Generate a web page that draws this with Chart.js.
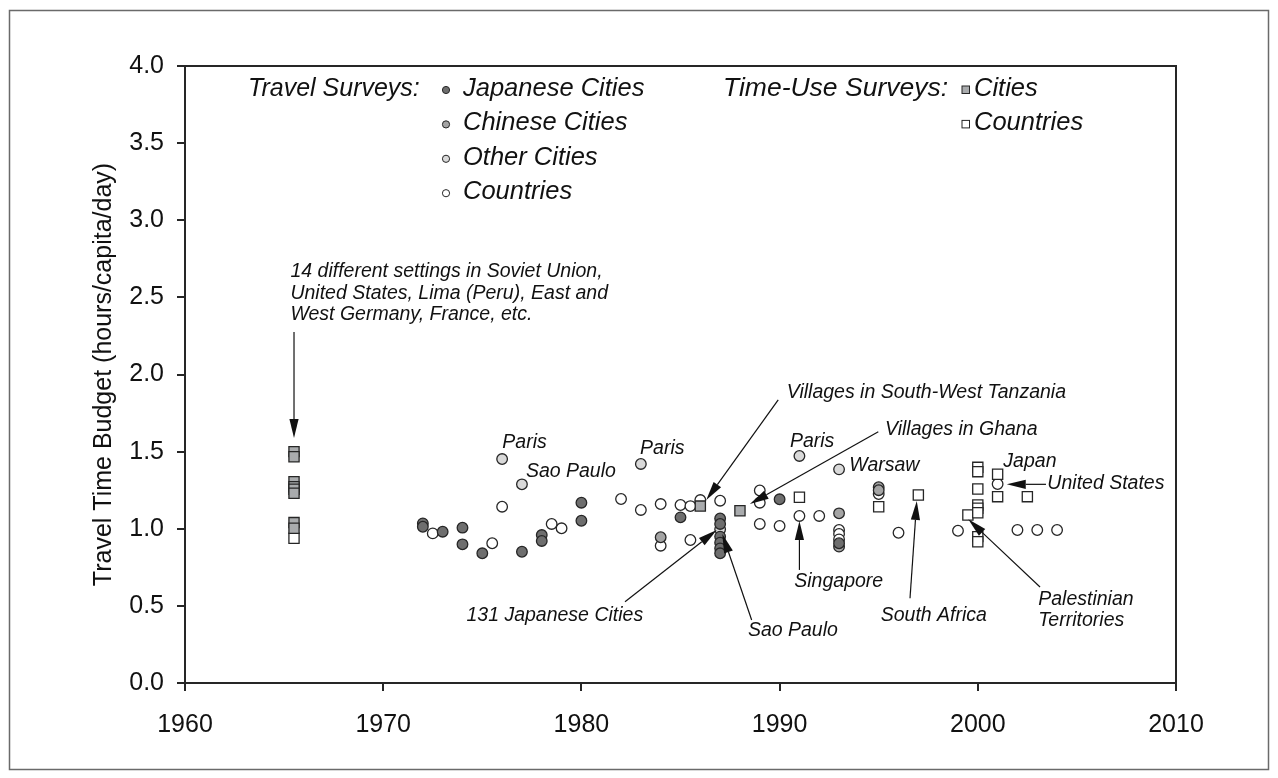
<!DOCTYPE html>
<html>
<head>
<meta charset="utf-8">
<title>Travel Time Budget</title>
<script src="https://cdn.jsdelivr.net/npm/chart.js@4.4.1/dist/chart.umd.min.js"></script>
<style>
  html, body { margin: 0; padding: 0; background: #ffffff; }
  canvas { display: block; }
</style>
</head>
<body>
<canvas id="chart" width="1278" height="778"></canvas>
<script>
const FONT = '"Liberation Sans", Arial, Helvetica, sans-serif';

// Travel surveys: [year, hours per capita per day]
const japaneseCities = [
  [1972, 1.035], [1972, 1.013], [1973, 0.981], [1974, 1.007], [1974, 0.899],
  [1975, 0.841], [1977, 0.851], [1978, 0.959], [1978, 0.921], [1980, 1.169],
  [1980, 1.052], [1985, 1.074], [1987, 1.067], [1987, 1.031], [1987, 0.949],
  [1987, 0.910], [1987, 0.873], [1987, 0.841], [1990, 1.191], [1993, 0.906]
];
const chineseCities = [
  [1984, 0.945], [1993, 1.100], [1993, 0.884], [1995, 1.269], [1995, 1.250]
];
const otherCities = [
  [1976, 1.452], [1977, 1.288], [1983, 1.420], [1987, 0.996], [1991, 1.472], [1993, 1.385]
];
const travelCountries = [
  [1972.5, 0.970], [1975.5, 0.906], [1976, 1.143], [1978.5, 1.031], [1979, 1.003],
  [1982, 1.193], [1983, 1.122], [1984, 1.160], [1984, 0.890], [1985, 1.154],
  [1985.5, 1.147], [1985.5, 0.927], [1986, 1.186], [1987, 1.182], [1989, 1.248],
  [1989, 1.169], [1989, 1.031], [1990, 1.018], [1991, 1.083], [1992, 1.083],
  [1993, 0.992], [1993, 0.966], [1993, 0.931], [1995, 1.225], [1996, 0.974],
  [1999, 0.987], [2001, 1.290], [2002, 0.992], [2003, 0.992], [2004, 0.992]
];

// Time-use surveys
const timeUseCities = [
  [1965.5, 1.500], [1965.5, 1.467], [1965.5, 1.305], [1965.5, 1.273], [1965.5, 1.256],
  [1965.5, 1.230], [1965.5, 1.040], [1965.5, 1.003], [1986, 1.147], [1988, 1.117]
];
const timeUseCountries = [
  [1965.5, 0.938], [1991, 1.204], [1995, 1.143], [1997, 1.219], [1999.5, 1.089],
  [2000, 1.398], [2000, 1.370], [2000, 1.258], [2000, 1.154], [2000, 1.133],
  [2000, 1.104], [2000, 0.949], [2000, 0.916], [2001, 1.353], [2001, 1.208], [2002.5, 1.208]
];

const yearTicks = [1960, 1970, 1980, 1990, 2000, 2010];
const budgetTicks = [0, 0.5, 1, 1.5, 2, 2.5, 3, 3.5, 4];

// Callout texts, anchored in data units: [lines, year, value at first baseline]
const callouts = [
  [['14 different settings in Soviet Union,', 'United States, Lima (Peru), East and', 'West Germany, France, etc.'], 1965.32, 2.632],
  [['Paris'], 1976.01, 1.522],
  [['Sao Paulo'], 1977.2, 1.337],
  [['Paris'], 1982.96, 1.485],
  [['Paris'], 1990.52, 1.532],
  [['Warsaw'], 1993.52, 1.376],
  [['Villages in South-West Tanzania'], 1990.36, 1.846],
  [['Villages in Ghana'], 1995.32, 1.608],
  [['Japan'], 2001.29, 1.398],
  [['United States'], 2003.51, 1.256],
  [['Singapore'], 1990.74, 0.620],
  [['South Africa'], 1995.1, 0.404],
  [['Palestinian', 'Territories'], 2003.05, 0.506],
  [['131 Japanese Cities'], 1974.2, 0.404],
  [['Sao Paulo'], 1988.4, 0.305]
];
// Arrows: [tail year, tail value, tip year, tip value]
const arrows = [
  [1965.5, 2.276, 1965.5, 1.588],
  [1989.93, 1.835, 1986.3, 1.186],
  [1994.98, 1.629, 1988.5, 1.160],
  [2003.44, 1.288, 2001.46, 1.288],
  [1991.0, 0.733, 1991.0, 1.050],
  [1996.58, 0.549, 1996.92, 1.180],
  [2003.14, 0.622, 1999.52, 1.061],
  [1982.2, 0.527, 1986.83, 0.992],
  [1988.59, 0.408, 1987.11, 0.966]
];

const toPoints = arr => arr.map(([x, y]) => ({ x, y }));
const EDGE = '#262626';

function circleSet(label, data, fill) {
  return { label, data: toPoints(data), pointStyle: 'circle', pointRadius: 5.3,
    backgroundColor: fill, borderColor: EDGE, borderWidth: 1.3, showLine: false };
}
function squareSet(label, data, fill) {
  return { label, data: toPoints(data), pointStyle: 'rect', pointRadius: 7.2,
    backgroundColor: fill, borderColor: EDGE, borderWidth: 1.3, showLine: false };
}

const datasets = [
  squareSet('Time-Use Cities', timeUseCities, '#a9abad'),
  squareSet('Time-Use Countries', timeUseCountries, '#ffffff'),
  circleSet('Japanese Cities', japaneseCities, '#6e6e6e'),
  circleSet('Chinese Cities', chineseCities, '#a4a4a4'),
  circleSet('Other Cities', otherCities, '#d9d9d9'),
  circleSet('Countries', travelCountries, '#ffffff')
];

function drawArrow(ctx, x1, y1, x2, y2) {
  const ang = Math.atan2(y2 - y1, x2 - x1);
  const len = 19, half = 4.6;
  const bx = x2 - Math.cos(ang) * len, by = y2 - Math.sin(ang) * len;
  ctx.beginPath();
  ctx.moveTo(x1, y1);
  ctx.lineTo(bx, by);
  ctx.stroke();
  ctx.beginPath();
  ctx.moveTo(x2, y2);
  ctx.lineTo(bx + Math.sin(ang) * half, by - Math.cos(ang) * half);
  ctx.lineTo(bx - Math.sin(ang) * half, by + Math.cos(ang) * half);
  ctx.closePath();
  ctx.fill();
}

const decorPlugin = {
  id: 'decor',
  afterDatasetsDraw(chart) {
    const { ctx, chartArea: a, scales: { x, y } } = chart;
    ctx.save();
    // plot box
    ctx.strokeStyle = EDGE;
    ctx.lineWidth = 2;
    ctx.strokeRect(a.left, a.top, a.right - a.left, a.bottom - a.top);

    // arrows
    ctx.strokeStyle = '#111';
    ctx.fillStyle = '#111';
    ctx.lineWidth = 1.2;
    arrows.forEach(([x1, y1, x2, y2]) => {
      drawArrow(ctx, x.getPixelForValue(x1), y.getPixelForValue(y1),
                x.getPixelForValue(x2), y.getPixelForValue(y2));
    });

    // callouts
    ctx.fillStyle = '#111';
    ctx.font = 'italic 19.5px ' + FONT;
    ctx.textAlign = 'left';
    ctx.textBaseline = 'alphabetic';
    callouts.forEach(([lines, cx, cy]) => {
      const px = x.getPixelForValue(cx), py = y.getPixelForValue(cy);
      lines.forEach((t, i) => ctx.fillText(t, px, py + i * 21.5));
    });

    // legend
    const L = a.left, T = a.top;
    ctx.font = 'italic 25px ' + FONT;
    ctx.fillText('Travel Surveys:', L + 63, T + 30);
    ctx.font = 'italic 26.5px ' + FONT;
    ctx.fillText('Time-Use Surveys:', L + 538, T + 30);
    ctx.font = 'italic 25.5px ' + FONT;
    const rows = [
      ['Japanese Cities', '#6e6e6e'],
      ['Chinese Cities', '#a4a4a4'],
      ['Other Cities', '#d9d9d9'],
      ['Countries', '#ffffff']
    ];
    rows.forEach(([t, c], i) => {
      const base = T + 30 + i * 34.4;
      ctx.beginPath();
      ctx.arc(L + 261, base - 6, 3.6, 0, Math.PI * 2);
      ctx.fillStyle = c;
      ctx.fill();
      ctx.strokeStyle = EDGE;
      ctx.lineWidth = 1;
      ctx.stroke();
      ctx.fillStyle = '#111';
      ctx.fillText(t, L + 278, base);
    });
    [['Cities', '#a9abad'], ['Countries', '#ffffff']].forEach(([t, c], i) => {
      const base = T + 30 + i * 34.4;
      ctx.fillStyle = c;
      ctx.fillRect(L + 777, base - 10, 7.5, 7.5);
      ctx.strokeStyle = EDGE;
      ctx.lineWidth = 1;
      ctx.strokeRect(L + 777, base - 10, 7.5, 7.5);
      ctx.fillStyle = '#111';
      ctx.fillText(t, L + 789, base);
    });

    // outer frame
    ctx.strokeStyle = '#6a6a6a';
    ctx.lineWidth = 1.5;
    ctx.strokeRect(9.5, 10.5, chart.width - 19, chart.height - 19);
    ctx.restore();
  }
};

new Chart(document.getElementById('chart'), {
  type: 'scatter',
  data: { datasets },
  options: {
    responsive: false,
    animation: false,
    events: [],
    layout: { padding: { left: 0, right: 102, top: 66, bottom: 0 } },
    plugins: { legend: { display: false }, tooltip: { enabled: false } },
    scales: {
      x: {
        type: 'linear', min: 1960, max: 2010,
        afterBuildTicks: s => { s.ticks = yearTicks.map(v => ({ value: v })); },
        afterFit: s => { s.height = 95; },
        ticks: { color: '#111', padding: 19, font: { family: FONT, size: 25 },
                 callback: v => String(v) },
        grid: { drawOnChartArea: false, drawTicks: true, tickLength: 8, color: EDGE, lineWidth: 2 },
        border: { display: true, color: EDGE, width: 2 }
      },
      y: {
        type: 'linear', min: 0, max: 4,
        afterBuildTicks: s => { s.ticks = budgetTicks.map(v => ({ value: v })); },
        afterFit: s => { s.width = 185; },
        ticks: { color: '#111', padding: 13, font: { family: FONT, size: 25 },
                 callback: v => Number(v).toFixed(1) },
        grid: { drawOnChartArea: false, drawTicks: true, tickLength: 8, color: EDGE, lineWidth: 2 },
        border: { display: true, color: EDGE, width: 2 },
        title: { display: true, text: 'Travel Time Budget (hours/capita/day)', color: '#111',
                 padding: { top: 89, bottom: 0 }, font: { family: FONT, size: 25 } }
      }
    }
  },
  plugins: [decorPlugin]
});
</script>
</body>
</html>
